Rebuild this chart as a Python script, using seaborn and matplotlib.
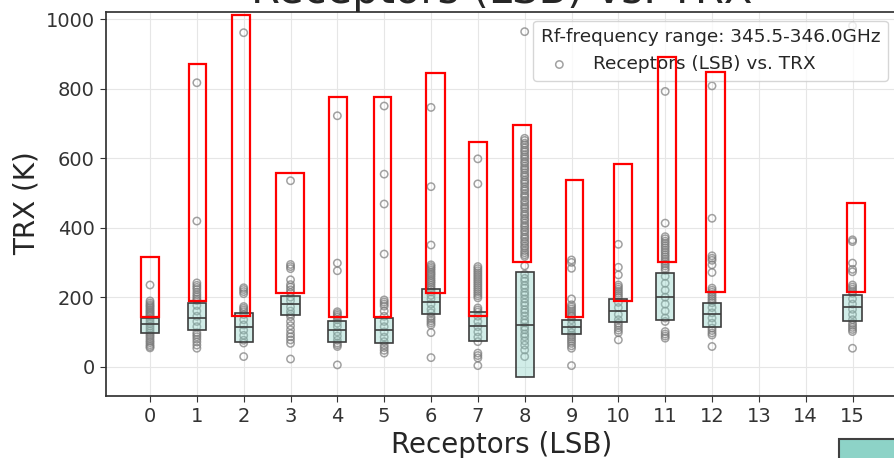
import matplotlib
matplotlib.use("Agg")
import matplotlib.pyplot as plt
from matplotlib.patches import Rectangle
import numpy as np
import pandas as pd
import seaborn as sns

# Receptor ids that carry measurements, and the full tick range
receptors = [0, 1, 2, 3, 4, 5, 6, 7, 8, 9, 10, 11, 12, 15]
tick_receptors = list(range(16))
y_ticks = [0, 200, 400, 600, 800, 1000]

# Box summaries (lower edge, median, upper edge) per receptor, in K
box_low = [97, 105, 72, 149, 72, 69, 151, 75, -29, 93, 129, 134, 113, 130]
box_median = [123, 141, 113, 180, 105, 105, 187, 118, 120, 113, 161, 200, 151, 171]
box_high = [141, 182, 154, 204, 132, 139, 223, 157, 272, 134, 195, 269, 182, 207]

# Individual TRX measurements per receptor, in K
trx_r0 = [235, 189, 183, 178, 174, 170, 165, 161, 157, 153, 149, 145, 138, 131,
          124, 117, 110, 103, 97, 91, 86, 80, 74, 69, 63, 58, 54]
trx_r1 = [817, 419, 241, 234, 228, 222, 214, 207, 201, 195, 190, 176, 160, 145,
          130, 115, 98, 92, 86, 79, 71, 62, 53]
trx_r2 = [961, 227, 222, 216, 210, 173, 168, 163, 158, 150, 135, 120, 105, 90,
          76, 68, 29]
trx_r3 = [535, 294, 288, 282, 250, 236, 229, 221, 213, 200, 190, 172, 160, 151,
          144, 130, 118, 106, 95, 86, 77, 67, 22]
trx_r4 = [722, 298, 276, 158, 153, 148, 143, 135, 125, 115, 100, 88, 76, 68,
          63, 58, 5]
trx_r5 = [750, 554, 468, 324, 192, 186, 180, 174, 160, 145, 130, 115, 100, 85,
          72, 62, 55, 47, 39]
trx_r6 = [746, 518, 350, 293, 288, 283, 278, 272, 267, 262, 256, 250, 245, 240,
          234, 228, 222, 215, 205, 195, 180, 165, 155, 144, 138, 132, 126, 120,
          98, 26]
trx_r7 = [598, 526, 288, 282, 276, 270, 264, 258, 252, 246, 240, 234, 228, 222,
          216, 210, 204, 198, 169, 163, 157, 145, 130, 115, 100, 85, 72, 39, 32,
          25, 3]
trx_r8 = [964, 657, 651, 643, 638, 630, 623, 618, 610, 604, 598, 590, 585, 577,
          571, 566, 558, 551, 546, 537, 532, 526, 518, 511, 506, 498, 492, 487,
          478, 473, 465, 459, 454, 446, 439, 434, 426, 421, 413, 406, 401, 393,
          388, 380, 373, 368, 360, 355, 347, 342, 334, 328, 322, 317, 290, 266,
          254, 246, 234, 226, 214, 206, 195, 184, 176, 164, 156, 146, 134, 126,
          114, 106, 94, 86, 74, 62, 48, 29]
trx_r9 = [307, 300, 283, 195, 178, 172, 166, 160, 154, 148, 144, 135, 122, 110,
          98, 91, 85, 79, 73, 67, 60, 53, 3]
trx_r10 = [352, 286, 264, 235, 229, 223, 217, 211, 205, 199, 185, 170, 150, 135,
           125, 119, 112, 105, 98, 77]
trx_r11 = [792, 413, 374, 368, 361, 355, 348, 342, 335, 329, 322, 316, 309, 303,
           296, 290, 283, 277, 260, 240, 220, 200, 180, 160, 140, 130, 101, 94,
           88, 82]
trx_r12 = [808, 427, 319, 312, 306, 293, 271, 226, 220, 214, 208, 202, 196, 190,
           184, 170, 155, 140, 125, 111, 104, 97, 91, 58]
trx_r15 = [981, 365, 360, 298, 280, 273, 235, 229, 223, 217, 211, 195, 180, 165,
           150, 135, 125, 119, 113, 107, 101, 53]

# Highlighted outlier windows: receptor span and TRX span of each red frame
frame_x0 = [-0.19, 0.83, 1.75, 2.68, 3.83, 4.78, 5.90, 6.82, 7.75, 8.88, 9.90,
            10.84, 11.87, 14.88]
frame_x1 = [0.19, 1.20, 2.14, 3.29, 4.20, 5.15, 6.30, 7.20, 8.14, 9.25, 10.30,
            11.23, 12.27, 15.27]
frame_low = [144, 189, 147, 213, 144, 144, 211, 146, 301, 144, 189, 301, 216, 214]
frame_high = [315, 870, 1012, 557, 775, 775, 845, 647, 696, 537, 583, 891, 847, 470]

trx_lists = [trx_r0, trx_r1, trx_r2, trx_r3, trx_r4, trx_r5, trx_r6, trx_r7,
             trx_r8, trx_r9, trx_r10, trx_r11, trx_r12, trx_r15]

points = pd.DataFrame({
    "receptor": np.repeat(receptors, [len(v) for v in trx_lists]),
    "trx": np.concatenate(trx_lists),
})

# Five-number layout (low, low, median, high, high) gives a box spanning
# exactly low..high with the median line where it belongs.
box_table = pd.DataFrame({
    "receptor": np.repeat(receptors, 5),
    "trx": np.column_stack([box_low, box_low, box_median, box_high, box_high]).ravel(),
})

sns.set_style("whitegrid", {
    "axes.edgecolor": "0.2",
    "grid.color": "0.9",
    "xtick.bottom": True,
    "ytick.left": True,
    "xtick.color": "0.2",
    "ytick.color": "0.2",
})

fig = plt.figure(figsize=(8.94, 4.58), dpi=100)
ax = fig.add_axes([106 / 894, 62.5 / 458, 791 / 894, 384 / 458])

sns.scatterplot(data=points, x="receptor", y="trx", ax=ax, marker="o", s=28,
                facecolor="none", edgecolor="#7a7a7a", linewidth=1.1, alpha=0.7,
                label="Receptors (LSB) vs. TRX", zorder=2)

sns.boxplot(data=box_table, x="receptor", y="trx", native_scale=True, ax=ax,
            width=0.39, whis=0, showfliers=False, showcaps=False,
            color="#8dd3c7", linecolor="#3d3d3d", linewidth=1.2,
            boxprops={"facecolor": (0.553, 0.827, 0.780, 0.4), "zorder": 3},
            medianprops={"zorder": 3.1}, whiskerprops={"zorder": 3})

for x0, x1, lo, hi in zip(frame_x0, frame_x1, frame_low, frame_high):
    ax.add_patch(Rectangle((x0, lo), x1 - x0, hi - lo, fill=False,
                           edgecolor="red", linewidth=1.6, zorder=6))

ax.set_xlim(-0.94, 15.95)
ax.set_ylim(-83, 1022)
ax.set_xticks(tick_receptors)
ax.set_xticklabels([str(t) for t in tick_receptors])
ax.set_yticks(y_ticks)
ax.tick_params(axis="both", labelsize=14, length=4.5)
for side in ("left", "bottom", "top", "right"):
    ax.spines[side].set_linewidth(1.25)

ax.set_xlabel("Receptors (LSB)", fontsize=20)
ax.set_ylabel("TRX (K)", fontsize=20)
ax.set_title("Receptors (LSB) vs. TRX", fontsize=30)

ax.legend(title="Rf-frequency range: 345.5-346.0GHz", loc="upper right",
          fontsize=13.3, title_fontsize=13.3, alignment="left",
          frameon=True, framealpha=0.8, edgecolor="0.8")

# Swatch of the neighbouring panel's legend peeking in at the lower right
fig.add_artist(Rectangle((839 / 894, -0.1), 0.2, 0.1 + 19 / 458,
                         transform=fig.transFigure, facecolor="#8dd3c7",
                         edgecolor="#404040", linewidth=1.5))

fig.savefig("out.png", dpi=100)
